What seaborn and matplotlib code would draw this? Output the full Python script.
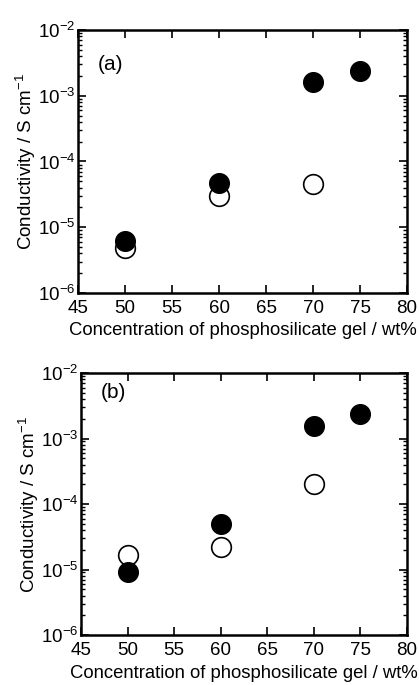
import math
import matplotlib
matplotlib.use("Agg")
import matplotlib.pyplot as plt
import seaborn as sns
import pandas as pd
from matplotlib.ticker import LogLocator, FixedLocator, NullLocator, FuncFormatter

sns.set_theme(style="ticks")
plt.rcParams['font.family'] = ['Liberation Sans', 'DejaVu Sans']
plt.rcParams['mathtext.fontset'] = 'custom'
plt.rcParams['mathtext.rm'] = 'Liberation Sans'
plt.rcParams['mathtext.it'] = 'Liberation Sans'

# Panel (a)
a_x_filled = [50, 60, 70, 75]
a_y_filled = [6.2e-6, 4.75e-5, 1.62e-3, 2.4e-3]
a_x_open = [50, 60, 70]
a_y_open = [4.9e-6, 3.0e-5, 4.5e-5]

# Panel (b)
b_x_filled = [50, 60, 70, 75]
b_y_filled = [9.1e-6, 4.98e-5, 1.57e-3, 2.36e-3]
b_x_open = [50, 60, 70]
b_y_open = [1.67e-5, 2.24e-5, 2.01e-4]

x_ticks = [45, 50, 55, 60, 65, 70, 75, 80]
panel_labels = ["(a)", "(b)"]
xlabel = "Concentration of phosphosilicate gel / wt%"
ylabel = "Conductivity / S cm$^{-1}$"

W, H = 419, 685
fig = plt.figure(figsize=(W/100, H/100), dpi=100)

boxes = [(78, 30, 407, 293), (81, 373, 407, 635)]
label_pos = [(0.06, 0.867), (0.06, 0.925)]
datasets = [(a_x_filled, a_y_filled, a_x_open, a_y_open),
            (b_x_filled, b_y_filled, b_x_open, b_y_open)]

def fmt(v, pos):
    e = int(round(math.log10(v)))
    return r"$10^{%d}$" % e

for (l, t, r, b), (xf, yf, xo, yo), lab, (lx, ly) in zip(boxes, datasets, panel_labels, label_pos):
    ax = fig.add_axes([l/W, 1 - b/H, (r-l)/W, (b-t)/H])
    df_o = pd.DataFrame({"x": xo, "y": yo})
    df_f = pd.DataFrame({"x": xf, "y": yf})
    sns.scatterplot(data=df_o, x="x", y="y", ax=ax, s=200, facecolor="white",
                    edgecolor="black", linewidth=1.2, zorder=3)
    sns.scatterplot(data=df_f, x="x", y="y", ax=ax, s=200, color="black",
                    edgecolor="black", linewidth=1.0, zorder=4)
    ax.set_yscale("log")
    ax.set_xlim(45, 80)
    ax.set_ylim(1e-6, 1e-2)
    ax.xaxis.set_major_locator(FixedLocator(x_ticks))
    ax.xaxis.set_minor_locator(NullLocator())
    ax.yaxis.set_major_locator(LogLocator(base=10, numticks=10))
    ax.yaxis.set_minor_locator(LogLocator(base=10, subs=range(2, 10), numticks=20))
    ax.yaxis.set_major_formatter(FuncFormatter(fmt))
    ax.yaxis.set_minor_formatter(FuncFormatter(lambda v, p: ""))
    ax.tick_params(which="both", direction="in", top=True, right=True, colors="black")
    ax.tick_params(which="major", length=6, width=1.2, labelsize=13.5)
    ax.tick_params(axis="x", which="major", pad=5)
    ax.tick_params(axis="y", which="major", pad=2)
    ax.tick_params(which="minor", length=3, width=1.0)
    for s in ax.spines.values():
        s.set_linewidth(1.8)
        s.set_color("black")
    ax.set_xlabel(xlabel, fontsize=13.3, color="black", labelpad=4)
    ax.set_ylabel(ylabel, fontsize=13.5, color="black", labelpad=0)
    ax.text(lx, ly, lab, transform=ax.transAxes, fontsize=15, color="black",
            va="center", ha="left")

fig.savefig("out.png", dpi=100)
